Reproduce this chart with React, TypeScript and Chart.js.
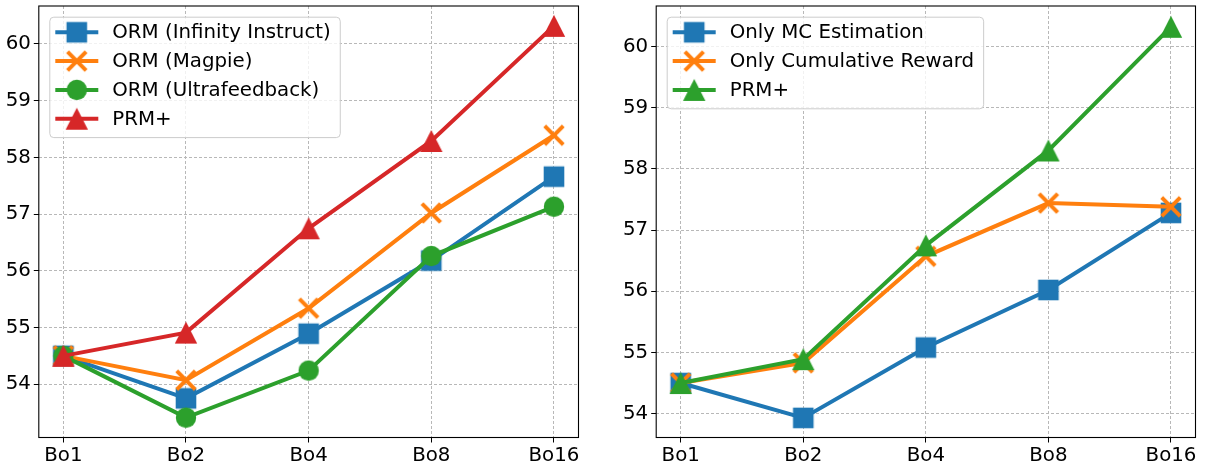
import React, { useEffect, useRef } from "react";
import { Chart, registerables } from "chart.js";
Chart.register(...registerables);

// ---------- data ----------
const categories = ["Bo1", "Bo2", "Bo4", "Bo8", "Bo16"];
const yTicksLeft = [54, 55, 56, 57, 58, 59, 60];
const yTicksRight = [54, 55, 56, 57, 58, 59, 60];

const ormInfinity = [54.5, 53.75, 54.89, 56.18, 57.66];
const ormMagpie = [54.5, 54.07, 55.34, 57.02, 58.39];
const ormUltra = [54.5, 53.41, 54.24, 56.26, 57.13];
const prmPlusLeft = [54.5, 54.91, 56.75, 58.29, 60.32];

const onlyMC = [54.5, 53.93, 55.08, 56.02, 57.28];
const onlyCumulative = [54.5, 54.83, 56.57, 57.44, 57.38];
const prmPlusRight = [54.5, 54.89, 56.75, 58.3, 60.32];

const leftRange = [53.06, 60.67];
const rightRange = [53.61, 60.66];

// ---------- style ----------
const BLUE = "#1f77b4";
const ORANGE = "#ff7f0e";
const GREEN = "#2ca02c";
const RED = "#d62728";
const FONT = '"DejaVu Sans"';
const TICK_SIZE = 19.8;
const LEGEND_SIZE = 19.8;

type Kind = "square" | "x" | "circle" | "triangle";

function makeMarker(kind: Kind, color: string): HTMLCanvasElement {
  const S = 28;
  const c = document.createElement("canvas");
  c.width = S;
  c.height = S;
  const ctx = c.getContext("2d")!;
  const m = S / 2;
  ctx.fillStyle = color;
  ctx.strokeStyle = color;
  if (kind === "square") {
    ctx.fillRect(m - 10.3, m - 10.3, 20.6, 20.6);
  } else if (kind === "circle") {
    ctx.beginPath();
    ctx.arc(m, m, 10.2, 0, Math.PI * 2);
    ctx.fill();
  } else if (kind === "triangle") {
    ctx.beginPath();
    ctx.moveTo(m, m - 11);
    ctx.lineTo(m + 11.2, m + 11);
    ctx.lineTo(m - 11.2, m + 11);
    ctx.closePath();
    ctx.fill();
  } else {
    ctx.lineWidth = 4;
    ctx.lineCap = "butt";
    ctx.beginPath();
    ctx.moveTo(m - 9.3, m - 9.3);
    ctx.lineTo(m + 9.3, m + 9.3);
    ctx.moveTo(m + 9.3, m - 9.3);
    ctx.lineTo(m - 9.3, m + 9.3);
    ctx.stroke();
  }
  return c;
}

interface Series {
  label: string;
  values: number[];
  color: string;
  kind: Kind;
}

function framePlugin(items: { label: string; color: string; marker: HTMLCanvasElement }[]) {
  return {
    id: "frameAndLegend",
    afterDatasetsDraw(chart: any) {
      const ctx: CanvasRenderingContext2D = chart.ctx;
      const a = chart.chartArea;
      ctx.save();
      // frame
      ctx.strokeStyle = "#000";
      ctx.lineWidth = 1.1;
      ctx.strokeRect(a.left, a.top, a.right - a.left, a.bottom - a.top);
      // legend
      ctx.font = `${LEGEND_SIZE}px ${FONT}`;
      const maxW = Math.max(...items.map((it) => ctx.measureText(it.label).width));
      const x0 = a.left + 10.5;
      const y0 = a.top + 10.7;
      const w = 63 + maxW + 9;
      const h = 15.6 + (items.length - 1) * 28.8 + 18.4;
      ctx.beginPath();
      (ctx as any).roundRect(x0 + 0.5, y0 + 0.5, w, h, 4);
      ctx.fillStyle = "rgba(255,255,255,0.8)";
      ctx.fill();
      ctx.strokeStyle = "#cccccc";
      ctx.lineWidth = 1;
      ctx.stroke();
      items.forEach((it, i) => {
        const cy = y0 + 15.6 + i * 28.8;
        ctx.strokeStyle = it.color;
        ctx.lineWidth = 4;
        ctx.beginPath();
        ctx.moveTo(x0 + 6, cy);
        ctx.lineTo(x0 + 49, cy);
        ctx.stroke();
        ctx.drawImage(it.marker, x0 + 27.5 - it.marker.width / 2, cy - it.marker.height / 2);
        ctx.fillStyle = "#000";
        ctx.textBaseline = "middle";
        ctx.textAlign = "left";
        ctx.fillText(it.label, x0 + 63, cy + 1);
      });
      ctx.restore();
    },
  };
}

function buildConfig(
  series: Series[],
  yTicks: number[],
  range: number[],
  yAxisWidth: number,
  padRight: number,
  canvasHeight: number
): any {
  const markers = series.map((s) => makeMarker(s.kind, s.color));
  const datasets = series.map((s, i) => ({
    label: s.label,
    data: s.values.map((v, j) => ({ x: j, y: v })),
    borderColor: s.color,
    backgroundColor: s.color,
    borderWidth: 4,
    pointStyle: markers[i],
    pointRadius: 11,
    pointHoverRadius: 11,
    tension: 0,
    clip: false,
    order: series.length - i,
  }));
  const gridCommon = {
    color: "#b8b8b8",
    lineWidth: 1,
    drawTicks: true,
    tickLength: 5,
    tickColor: "#000",
    tickWidth: 1,
    tickBorderDash: [],
  };
  const zeroPad = (s: any) => {
    s.paddingTop = 0;
    s.paddingBottom = 0;
    s.paddingLeft = 0;
    s.paddingRight = 0;
  };
  return {
    type: "line",
    data: { datasets },
    options: {
      animation: false,
      responsive: false,
      devicePixelRatio: 1,
      events: [],
      layout: { autoPadding: false, padding: { top: 6, right: padRight, left: 0, bottom: 0 } },
      plugins: { legend: { display: false }, tooltip: { enabled: false } },
      scales: {
        x: {
          type: "linear",
          min: -0.2,
          max: 4.2,
          afterBuildTicks: (s: any) => {
            s.ticks = categories.map((_, i) => ({ value: i }));
          },
          afterFit: (s: any) => {
            s.height = canvasHeight - 437.5;
            zeroPad(s);
          },
          ticks: {
            callback: (v: number) => categories[Math.round(v)],
            font: { family: FONT, size: TICK_SIZE, lineHeight: 1.0 },
            color: "#000",
            padding: 3,
            autoSkip: false,
            maxRotation: 0,
          },
          grid: gridCommon,
          border: { display: false, dash: [3, 2] },
        },
        y: {
          type: "linear",
          min: range[0],
          max: range[1],
          afterBuildTicks: (s: any) => {
            s.ticks = yTicks.map((v) => ({ value: v }));
          },
          afterFit: (s: any) => {
            s.width = yAxisWidth;
            zeroPad(s);
          },
          ticks: {
            callback: (v: number) => String(v),
            font: { family: FONT, size: TICK_SIZE },
            color: "#000",
            padding: 3,
          },
          grid: gridCommon,
          border: { display: false, dash: [3, 2] },
        },
      },
    },
    plugins: [framePlugin(series.map((s, i) => ({ label: s.label, color: s.color, marker: markers[i] })))],
  };
}

function ChartCanvas(props: {
  series: Series[];
  yTicks: number[];
  range: number[];
  left: number;
  width: number;
  yAxisWidth: number;
  padRight: number;
}) {
  const ref = useRef<HTMLCanvasElement | null>(null);
  const height = 466;
  useEffect(() => {
    if (!ref.current) return;
    const chart = new Chart(
      ref.current,
      buildConfig(props.series, props.yTicks, props.range, props.yAxisWidth, props.padRight, height)
    );
    return () => chart.destroy();
  }, []);
  return (
    <canvas
      ref={ref}
      width={props.width}
      height={height}
      style={{ position: "absolute", left: props.left, top: 0, width: props.width, height }}
    />
  );
}

const leftSeries: Series[] = [
  { label: "ORM (Infinity Instruct)", values: ormInfinity, color: BLUE, kind: "square" },
  { label: "ORM (Magpie)", values: ormMagpie, color: ORANGE, kind: "x" },
  { label: "ORM (Ultrafeedback)", values: ormUltra, color: GREEN, kind: "circle" },
  { label: "PRM+", values: prmPlusLeft, color: RED, kind: "triangle" },
];

const rightSeries: Series[] = [
  { label: "Only MC Estimation", values: onlyMC, color: BLUE, kind: "square" },
  { label: "Only Cumulative Reward", values: onlyCumulative, color: ORANGE, kind: "x" },
  { label: "PRM+", values: prmPlusRight, color: GREEN, kind: "triangle" },
];

export default function App() {
  return (
    <div style={{ position: "absolute", left: 0, top: 0, width: 1205, height: 466, background: "#fff" }}>
      <ChartCanvas series={leftSeries} yTicks={yTicksLeft} range={leftRange} left={0} width={600} yAxisWidth={38.8} padRight={21.5} />
      <ChartCanvas series={rightSeries} yTicks={yTicksRight} range={rightRange} left={600} width={605} yAxisWidth={56.2} padRight={9.5} />
    </div>
  );
}
